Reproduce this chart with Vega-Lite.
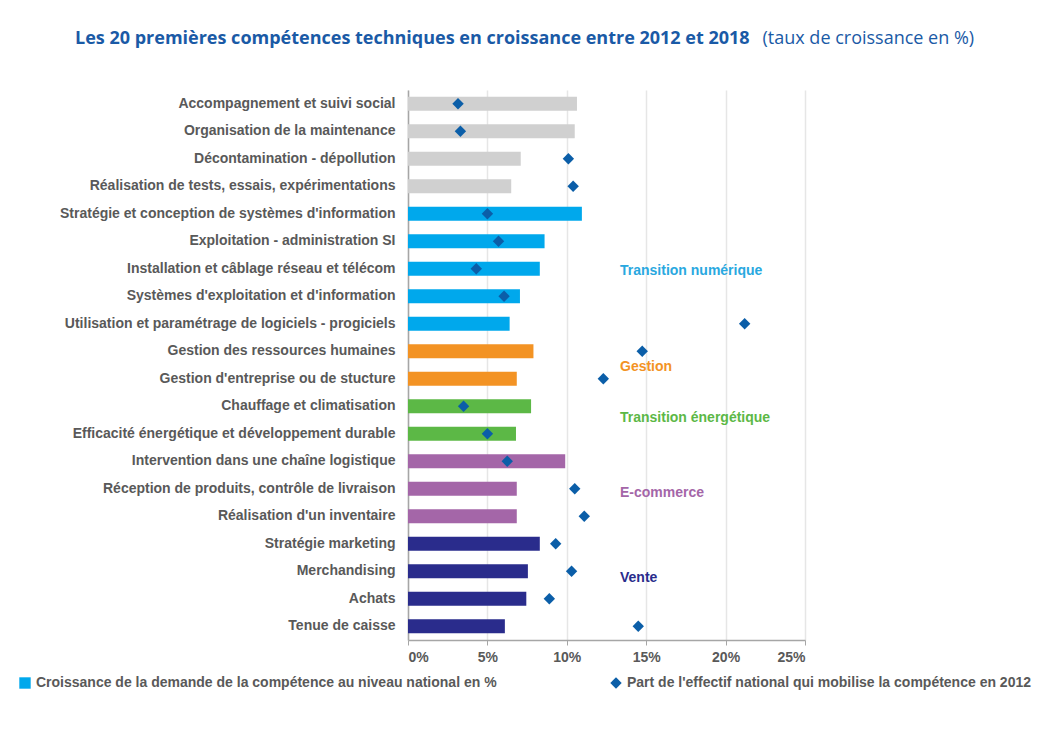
{
  "$schema": "https://vega.github.io/schema/vega-lite/v6.json",
  "width": 397,
  "height": 550,
  "autosize": {"type": "none"},
  "padding": {"left": 408, "top": 90, "right": 235, "bottom": 100},
  "background": "#ffffff",
  "title": {
    "text": "Les 20 premières compétences techniques en croissance entre 2012 et 2018",
    "anchor": "start",
    "frame": "group",
    "dx": -333,
    "offset": -19,
    "font": "Open Sans, sans-serif",
    "fontSize": 18,
    "fontWeight": "bold",
    "color": "#1a5aa6"
  },
  "data": {
    "values": [
      {"competence": "Accompagnement et suivi social", "groupe": "Autres", "croissance": 10.64, "part": 3.15},
      {"competence": "Organisation de la maintenance", "groupe": "Autres", "croissance": 10.5, "part": 3.3},
      {"competence": "Décontamination - dépollution", "groupe": "Autres", "croissance": 7.1, "part": 10.1},
      {"competence": "Réalisation de tests, essais, expérimentations", "groupe": "Autres", "croissance": 6.5, "part": 10.4},
      {"competence": "Stratégie et conception de systèmes d'information", "groupe": "Transition numérique", "croissance": 10.95, "part": 5.0},
      {"competence": "Exploitation - administration SI", "groupe": "Transition numérique", "croissance": 8.6, "part": 5.7},
      {"competence": "Installation et câblage réseau et télécom", "groupe": "Transition numérique", "croissance": 8.3, "part": 4.3},
      {"competence": "Systèmes d'exploitation et d'information", "groupe": "Transition numérique", "croissance": 7.05, "part": 6.05},
      {"competence": "Utilisation et paramétrage de logiciels - progiciels", "groupe": "Transition numérique", "croissance": 6.4, "part": 21.2},
      {"competence": "Gestion des ressources humaines", "groupe": "Gestion", "croissance": 7.9, "part": 14.75},
      {"competence": "Gestion d'entreprise ou de stucture", "groupe": "Gestion", "croissance": 6.85, "part": 12.3},
      {"competence": "Chauffage et climatisation", "groupe": "Transition énergétique", "croissance": 7.75, "part": 3.5},
      {"competence": "Efficacité énergétique et développement durable", "groupe": "Transition énergétique", "croissance": 6.8, "part": 5.0},
      {"competence": "Intervention dans une chaîne logistique", "groupe": "E-commerce", "croissance": 9.9, "part": 6.25},
      {"competence": "Réception de produits, contrôle de livraison", "groupe": "E-commerce", "croissance": 6.85, "part": 10.5},
      {"competence": "Réalisation d'un inventaire", "groupe": "E-commerce", "croissance": 6.85, "part": 11.1},
      {"competence": "Stratégie marketing", "groupe": "Vente", "croissance": 8.3, "part": 9.3},
      {"competence": "Merchandising", "groupe": "Vente", "croissance": 7.55, "part": 10.3},
      {"competence": "Achats", "groupe": "Vente", "croissance": 7.45, "part": 8.9},
      {"competence": "Tenue de caisse", "groupe": "Vente", "croissance": 6.1, "part": 14.5}
    ]
  },
  "layer": [
    {
      "mark": {"type": "bar"},
      "encoding": {
        "y": {
          "field": "competence",
          "type": "nominal",
          "sort": null,
          "scale": {"paddingInner": 0.49, "paddingOuter": 0.245},
          "axis": {
            "title": "(taux de croissance en %)",
            "titleAngle": 0,
            "titleX": 354,
            "titleY": -47,
            "titleAlign": "left",
            "titleBaseline": "alphabetic",
            "titleFont": "Open Sans, sans-serif",
            "titleFontSize": 18,
            "titleFontWeight": "normal",
            "titleColor": "#1a5aa6",
            "domain": true,
            "domainColor": "#a6a6a6",
            "domainWidth": 1.5,
            "ticks": false,
            "labelFont": "Liberation Sans, Arial, sans-serif",
            "labelFontSize": 14,
            "labelFontWeight": "bold",
            "labelColor": "#595959",
            "labelPadding": 13,
            "labelLimit": 400
          }
        },
        "x": {
          "field": "croissance",
          "type": "quantitative",
          "scale": {"domain": [0, 25], "nice": false},
          "axis": {
            "title": null,
            "values": [0, 5, 10, 15, 20, 25],
            "labelExpr": "datum.value + '%'",
            "labelFont": "Liberation Sans, Arial, sans-serif",
            "labelFontSize": 14,
            "labelFontWeight": "bold",
            "labelColor": "#595959",
            "labelPadding": 5,
            "domainColor": "#a6a6a6",
            "domainWidth": 1.5,
            "tickColor": "#a6a6a6",
            "tickSize": 5,
            "grid": true,
            "gridColor": "#e6e6e6",
            "gridWidth": 1.5
          }
        },
        "fill": {
          "field": "groupe",
          "type": "nominal",
          "scale": {
            "domain": ["Autres", "Transition numérique", "Gestion", "Transition énergétique", "E-commerce", "Vente"],
            "range": ["#d0d0d0", "#00a8ec", "#f39324", "#5cb846", "#a466a8", "#2a2c8c"]
          },
          "legend": null
        }
      }
    },
    {
      "mark": {"type": "point", "filled": true, "size": 130, "opacity": 1},
      "encoding": {
        "y": {"field": "competence", "type": "nominal", "sort": null},
        "x": {"field": "part", "type": "quantitative"},
        "color": {
          "datum": "Part de l'effectif national qui mobilise la compétence en 2012",
          "type": "nominal",
          "scale": {
            "domain": ["Croissance de la demande de la compétence au niveau national en %", "Part de l'effectif national qui mobilise la compétence en 2012"],
            "range": ["#00a8ec", "#0b5ea8"]
          },
          "legend": {"title": null}
        },
        "shape": {
          "datum": "Part de l'effectif national qui mobilise la compétence en 2012",
          "type": "nominal",
          "scale": {
            "domain": ["Croissance de la demande de la compétence au niveau national en %", "Part de l'effectif national qui mobilise la compétence en 2012"],
            "range": ["square", "diamond"]
          },
          "legend": {"title": null}
        }
      }
    },
    {
      "data": {"values": [{"label": "Transition numérique"}]},
      "mark": {"type": "text", "align": "left", "baseline": "middle", "dy": 2, "font": "Liberation Sans, Arial, sans-serif", "fontSize": 14, "fontWeight": "bold", "color": "#29a8e0"},
      "encoding": {
        "x": {"datum": 13.35},
        "y": {"datum": "Installation et câblage réseau et télécom"},
        "text": {"field": "label"}
      }
    },
    {
      "data": {"values": [{"label": "Gestion"}]},
      "mark": {"type": "text", "align": "left", "baseline": "middle", "dy": -12, "font": "Liberation Sans, Arial, sans-serif", "fontSize": 14, "fontWeight": "bold", "color": "#f39324"},
      "encoding": {
        "x": {"datum": 13.35},
        "y": {"datum": "Gestion d'entreprise ou de stucture"},
        "text": {"field": "label"}
      }
    },
    {
      "data": {"values": [{"label": "Transition énergétique"}]},
      "mark": {"type": "text", "align": "left", "baseline": "middle", "dy": 12, "font": "Liberation Sans, Arial, sans-serif", "fontSize": 14, "fontWeight": "bold", "color": "#5cb846"},
      "encoding": {
        "x": {"datum": 13.35},
        "y": {"datum": "Chauffage et climatisation"},
        "text": {"field": "label"}
      }
    },
    {
      "data": {"values": [{"label": "E-commerce"}]},
      "mark": {"type": "text", "align": "left", "baseline": "middle", "dy": 4, "font": "Liberation Sans, Arial, sans-serif", "fontSize": 14, "fontWeight": "bold", "color": "#a466a8"},
      "encoding": {
        "x": {"datum": 13.35},
        "y": {"datum": "Réception de produits, contrôle de livraison"},
        "text": {"field": "label"}
      }
    },
    {
      "data": {"values": [{"label": "Vente"}]},
      "mark": {"type": "text", "align": "left", "baseline": "middle", "dy": 7, "font": "Liberation Sans, Arial, sans-serif", "fontSize": 14, "fontWeight": "bold", "color": "#2a2c8c"},
      "encoding": {
        "x": {"datum": 13.35},
        "y": {"datum": "Merchandising"},
        "text": {"field": "label"}
      }
    }
  ],
  "config": {
    "view": {"stroke": null},
    "legend": {
      "orient": "none",
      "legendX": -390,
      "legendY": 586,
      "direction": "horizontal",
      "columns": 2,
      "columnPadding": 112,
      "symbolSize": 130,
      "symbolStrokeWidth": 0,
      "labelFont": "Liberation Sans, Arial, sans-serif",
      "labelFontSize": 14,
      "labelFontWeight": "bold",
      "labelColor": "#595959",
      "labelLimit": 600,
      "labelOffset": 4
    }
  }
}
